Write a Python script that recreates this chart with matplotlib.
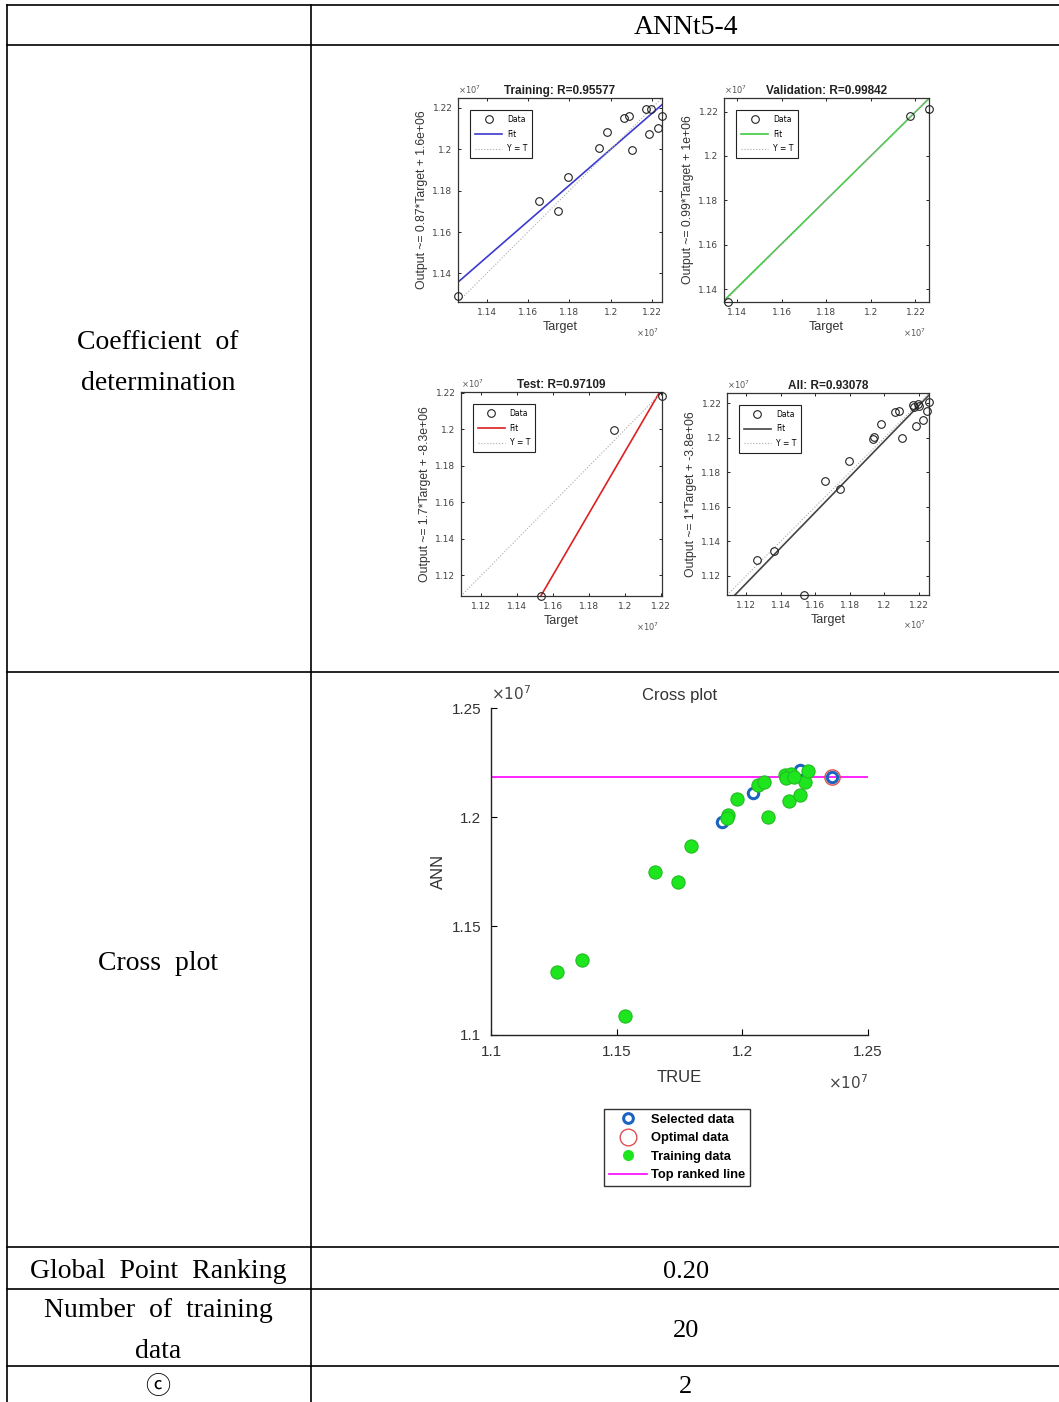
import matplotlib.pyplot as plt
from matplotlib.lines import Line2D
import numpy as np

W, H = 1059, 1402

# ---- data (all values in units of 1e7) ----
train_target = [1.1262, 1.1654, 1.1745, 1.1794, 1.1944, 1.1980, 1.2062,
                1.2088, 1.2104, 1.2170, 1.2184, 1.2195, 1.2228, 1.2248]
train_output = [1.1289, 1.1748, 1.1703, 1.1866, 1.2007, 1.2083, 1.2149,
                1.2159, 1.1999, 1.2193, 1.2072, 1.2195, 1.2103, 1.2159]
val_target = [1.1362, 1.2175, 1.2261]
val_output = [1.1342, 1.2179, 1.2210]
test_target = [1.1534, 1.1938, 1.2205]
test_output = [1.1087, 1.1996, 1.2185]

# fitted lines (slope, intercept) as drawn
fit_train = (0.87, 0.156)
fit_val = (0.99, 0.012)
fit_test = (1.69, -0.84)
fit_all = (1.03, -0.038)

# cross plot extras
selected_true = [1.1918, 1.2043, 1.2229, 1.2355]
selected_ann = [1.1978, 1.2111, 1.2216, 1.2185]
optimal_true = [1.2355]
optimal_ann = [1.2185]
top_ranked = 1.2182

ticks_a = [1.14, 1.16, 1.18, 1.2, 1.22]
ticks_b = [1.12, 1.14, 1.16, 1.18, 1.2, 1.22]
cross_ticks = [1.1, 1.15, 1.2, 1.25]

# table text
row_labels = ['Coefficient  of\ndetermination', 'Cross  plot', 'Global  Point  Ranking',
              'Number  of  training\ndata', '\u24d2']
row_values = ['', '', '0.20', '20', '2']
header = 'ANNt5-4'

SERIF = ['Liberation Serif', 'Noto Sans CJK KR', 'DejaVu Sans']
SANS = ['Liberation Sans', 'DejaVu Sans']

fig = plt.figure(figsize=(W / 100, H / 100), dpi=100)


def px_rect(l, t, r, b):
    return [l / W, 1 - b / H, (r - l) / W, (b - t) / H]


# table grid
tab = fig.add_axes([0, 0, 1, 1])
tab.set_xlim(0, W)
tab.set_ylim(H, 0)
tab.axis('off')
for y in [5, 45, 672, 1247, 1289, 1366]:
    tab.plot([7, W], [y, y], color='black', lw=1.2)
for x in [7, 311]:
    tab.plot([x, x], [5, H], color='black', lw=1.2)

tab.text(686, 28, header, ha='center', va='center', fontsize=20, family=SERIF)
label_y = [363, 964, 1272, 1331, 1387]
label_size = [20, 20, 20, 20, 18]
for y, lab, val, fs in zip(label_y, row_labels, row_values, label_size):
    tab.text(158, y, lab, ha='center', va='center', fontsize=fs, family=SERIF,
             linespacing=1.85)
    if val:
        tab.text(686, y, val, ha='center', va='center', fontsize=19, family=SERIF)


def regression_panel(rect, target, output, fit, color, title, ylabel, ticks):
    ax = fig.add_axes(rect)
    t = np.array(target)
    o = np.array(output)
    lo = min(t.min(), o.min())
    hi = max(t.max(), o.max())
    xs = np.array([lo, hi])
    ax.plot(t, o, 'o', mfc='none', mec='#222222', ms=5.5, mew=0.8,
            label='Data', clip_on=False, zorder=4)
    ax.plot(xs, fit[0] * xs + fit[1], color=color, lw=1.2, label='Fit')
    ax.plot(xs, xs, ':', color='#aaaaaa', lw=0.8, label='Y = T')
    ax.set_xlim(lo, hi)
    ax.set_ylim(lo, hi)
    ax.set_xticks(ticks)
    ax.set_yticks(ticks)
    ax.set_xticklabels([f'{v:g}' for v in ticks])
    ax.set_yticklabels([f'{v:g}' for v in ticks])
    ax.tick_params(direction='in', top=True, right=True, length=2.5, width=0.6,
                   labelsize=6.5, labelcolor='#444444', pad=4)
    for s in ax.spines.values():
        s.set_linewidth(0.9)
        s.set_color('#333333')
    ax.set_title(title, fontsize=8.5, fontweight='bold', pad=3, family=SANS,
                 color='#222222')
    ax.set_xlabel('Target', fontsize=9, labelpad=3, family=SANS, color='#333333')
    ax.set_ylabel(ylabel, fontsize=8.8, labelpad=3, family=SANS, color='#333333')
    ax.text(0.0, 1.01, r'$\times10^{7}$', transform=ax.transAxes, fontsize=6,
            ha='left', va='bottom', color='#555555')
    ax.text(0.93, -0.18, r'$\times10^{7}$', transform=ax.transAxes, fontsize=6,
            ha='center', va='bottom', color='#555555')
    leg = ax.legend(loc='upper left', bbox_to_anchor=(0.06, 0.94), borderaxespad=0,
                    fontsize=5.5, handlelength=3.6, fancybox=False, framealpha=1,
                    borderpad=0.6, labelspacing=0.75, handletextpad=0.6)
    leg.get_frame().set_edgecolor('#222222')
    leg.get_frame().set_linewidth(0.8)
    return ax


regression_panel(px_rect(458, 98, 662, 302), train_target, train_output, fit_train,
                 '#3a3ad0', 'Training: R=0.95577', 'Output ~= 0.87*Target + 1.6e+06', ticks_a)
regression_panel(px_rect(724, 98, 929, 302), val_target, val_output, fit_val,
                 '#40c840', 'Validation: R=0.99842', 'Output ~= 0.99*Target + 1e+06', ticks_a)
regression_panel(px_rect(461, 392, 662, 596), test_target, test_output, fit_test,
                 '#dd2020', 'Test: R=0.97109', 'Output ~= 1.7*Target + -8.3e+06', ticks_b)
all_target = train_target + val_target + test_target
all_output = train_output + val_output + test_output
regression_panel(px_rect(727, 393, 929, 595), all_target, all_output, fit_all,
                 '#444444', 'All: R=0.93078', 'Output ~= 1*Target + -3.8e+06', ticks_b)

# cross plot
cx = fig.add_axes(px_rect(491, 708, 868, 1035))
cx.axhline(top_ranked, color='#ff00ff', lw=1.2, zorder=1)
cx.plot(selected_true, selected_ann, 'o', mfc='none', mec='#1a64c0', ms=7.5, mew=2.2,
        zorder=2, clip_on=False)
cx.plot(optimal_true, optimal_ann, 'o', mfc='none', mec='#e05050', ms=11, mew=1.0,
        zorder=3, clip_on=False)
cx.plot(all_target, all_output, 'o', mfc='#1ee61e', mec='#22bb22', ms=9.5, mew=0.8,
        zorder=4, clip_on=False)
cx.set_xlim(1.1, 1.25)
cx.set_ylim(1.1, 1.25)
cx.set_xticks(cross_ticks)
cx.set_yticks(cross_ticks)
cx.set_xticklabels([f'{v:g}' for v in cross_ticks])
cx.set_yticklabels([f'{v:g}' for v in cross_ticks])
cx.spines['top'].set_visible(False)
cx.spines['right'].set_visible(False)
for s in ['left', 'bottom']:
    cx.spines[s].set_linewidth(1.0)
    cx.spines[s].set_color('#222222')
cx.tick_params(direction='in', length=4, width=0.8, labelsize=11, labelcolor='#333333', pad=7)
for lab in cx.get_xticklabels() + cx.get_yticklabels():
    lab.set_family(SANS)
cx.set_title('Cross plot', fontsize=12, pad=6, family=SANS, color='#333333')
cx.set_xlabel('TRUE', fontsize=12, labelpad=8, family=SANS, color='#333333')
cx.set_ylabel('ANN', fontsize=12, labelpad=4, family=SANS, color='#333333')
cx.text(0.0, 1.015, r'$\times10^{7}$', transform=cx.transAxes, fontsize=11,
        ha='left', va='bottom', color='#444444')
cx.text(1.0, -0.147, r'$\times10^{7}$', transform=cx.transAxes, fontsize=11,
        ha='right', va='center', color='#444444')

handles = [
    Line2D([], [], ls='none', marker='o', mfc='none', mec='#1a64c0', ms=7, mew=2.2),
    Line2D([], [], ls='none', marker='o', mfc='none', mec='#e05050', ms=12, mew=1.0),
    Line2D([], [], ls='none', marker='o', mfc='#1ee61e', mec='#1ee61e', ms=7),
    Line2D([], [], color='#ff00ff', lw=1.2),
]
labels = ['Selected data', 'Optimal data', 'Training data', 'Top ranked line']
leg = cx.legend(handles, labels, loc='upper left',
                bbox_to_anchor=(604 / W, 1 - 1109 / H), bbox_transform=fig.transFigure,
                borderaxespad=0, fancybox=False, framealpha=1,
                prop={'family': SANS, 'weight': 'bold', 'size': 9.3},
                handlelength=3.0, labelspacing=0.5, borderpad=0.35, handletextpad=0.3)
leg.get_frame().set_edgecolor('#333333')
leg.get_frame().set_linewidth(1.0)

fig.savefig('out.png', dpi=100)
